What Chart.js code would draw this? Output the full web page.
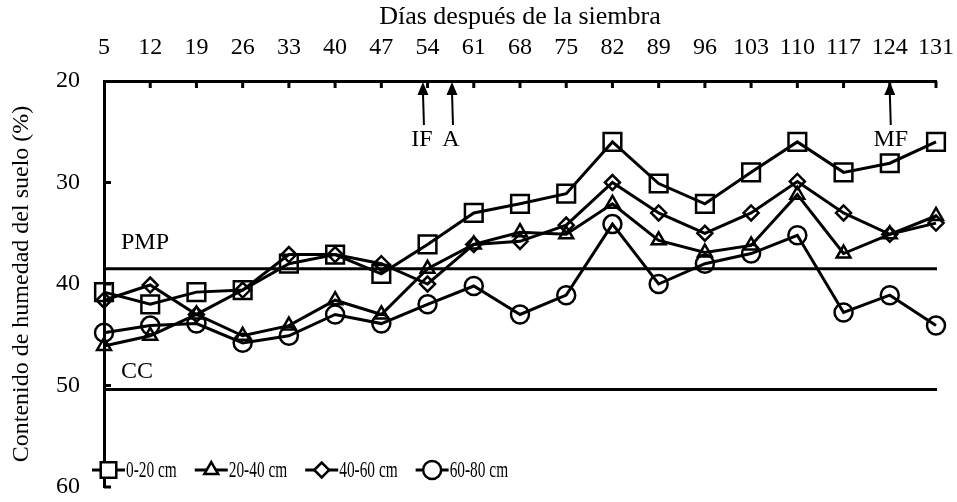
<!DOCTYPE html>
<html>
<head>
<meta charset="utf-8">
<script src="https://cdn.jsdelivr.net/npm/chart.js@4.4.1/dist/chart.umd.min.js"></script>
<style>
  html, body { margin: 0; padding: 0; background: #fff; }
  #wrap { width: 957px; height: 502px; position: relative; }
</style>
</head>
<body>
<div id="wrap"><canvas id="c" width="957" height="502"></canvas></div>
<script>
// ---- data ----
const days = [5, 12, 19, 26, 33, 40, 47, 54, 61, 68, 75, 82, 89, 96, 103, 110, 117, 124, 131];
const depth0_20  = [40.8, 42.0, 40.8, 40.6, 38.0, 37.1, 39.0, 36.1, 33.0, 32.1, 31.1, 26.0, 30.1, 32.1, 29.0, 26.0, 29.0, 28.1, 26.0];
const depth20_40 = [46.1, 45.1, 43.0, 45.1, 44.1, 41.6, 43.0, 38.5, 36.1, 34.9, 35.1, 32.1, 35.7, 36.9, 36.2, 31.2, 37.0, 35.1, 33.3];
const depth40_60 = [41.6, 40.1, 43.0, 40.6, 37.1, 37.1, 38.0, 40.0, 36.1, 35.8, 34.2, 30.0, 33.0, 35.0, 33.0, 29.9, 33.0, 35.1, 34.0];
const depth60_80 = [44.8, 44.1, 43.9, 45.8, 45.1, 43.0, 43.9, 42.0, 40.2, 43.0, 41.1, 34.1, 40.0, 38.0, 37.0, 35.2, 42.8, 41.1, 44.1];
const seriesLabels = ['0-20 cm', '20-40 cm', '40-60 cm', '60-80 cm'];
const yTicks = [20, 30, 40, 50, 60];
const refLines = [{ label: 'PMP', value: 38.5 }, { label: 'CC', value: 50.4 }];
const events = [{ label: 'IF', day: 53.3 }, { label: 'A', day: 57.7 }, { label: 'MF', day: 124 }];

const FONT = '"Liberation Serif", "Times New Roman", serif';
const pts = arr => arr.map((v, i) => ({ x: days[i], y: v }));

const styles = [
  { pointStyle: 'rect', pointRadius: 12.5 },
  { pointStyle: 'triangle', pointRadius: 8 },
  { pointStyle: 'rectRot', pointRadius: 7.5 },
  { pointStyle: 'circle', pointRadius: 9 }
];
const allSeries = [depth0_20, depth20_40, depth40_60, depth60_80];

const datasets = allSeries.map((arr, i) => ({
  label: seriesLabels[i],
  data: pts(arr),
  borderColor: '#000',
  borderWidth: 3,
  backgroundColor: 'rgba(255,255,255,0)',
  pointBackgroundColor: 'rgba(255,255,255,0)',
  pointBorderColor: '#000',
  pointBorderWidth: 2.5,
  pointStyle: styles[i].pointStyle,
  pointRadius: styles[i].pointRadius,
  pointHoverRadius: styles[i].pointRadius,
  tension: 0,
  clip: false
}));

const extras = {
  id: 'extras',
  beforeDatasetsDraw(chart) {
    const { ctx, chartArea: a, scales: { x, y } } = chart;
    ctx.save();
    ctx.strokeStyle = '#000';
    ctx.fillStyle = '#000';
    // reference lines
    ctx.lineWidth = 3;
    refLines.forEach(r => {
      const py = y.getPixelForValue(r.value);
      ctx.beginPath();
      ctx.moveTo(a.left, py);
      ctx.lineTo(a.right + 1, py);
      ctx.stroke();
    });
    ctx.font = '24px ' + FONT;
    ctx.textAlign = 'left';
    ctx.textBaseline = 'middle';
    ctx.fillText(refLines[0].label, a.left + 17, y.getPixelForValue(refLines[0].value) - 26);
    ctx.fillText(refLines[1].label, a.left + 17, y.getPixelForValue(refLines[1].value) - 18);
    // inward ticks
    ctx.lineWidth = 3;
    days.forEach((d, i) => {
      if (i === 0) return;
      const px = x.getPixelForValue(d);
      ctx.beginPath();
      ctx.moveTo(px, a.top);
      ctx.lineTo(px, a.top + 7);
      ctx.stroke();
    });
    yTicks.forEach((t, i) => {
      if (i === 0) return;
      const py = y.getPixelForValue(t);
      ctx.beginPath();
      ctx.moveTo(a.left, py);
      ctx.lineTo(a.left + 7, py);
      ctx.stroke();
    });
    // event arrows
    ctx.lineWidth = 2;
    events.forEach(e => {
      const px = x.getPixelForValue(e.day);
      const top = a.top + 1;
      ctx.beginPath();
      ctx.moveTo(px, top + 10);
      ctx.lineTo(px + 1, top + 43);
      ctx.stroke();
      ctx.beginPath();
      ctx.moveTo(px, top);
      ctx.lineTo(px - 5.5, top + 13);
      ctx.lineTo(px + 5.5, top + 13);
      ctx.closePath();
      ctx.fill();
      ctx.font = '24px ' + FONT;
      ctx.textAlign = 'center';
      ctx.textBaseline = 'middle';
      ctx.fillText(e.label, px + (e.label === 'MF' ? 1 : -1), top + 58);
    });
    ctx.restore();
  },
  afterDatasetsDraw(chart) {
    const { ctx, chartArea: a } = chart;
    ctx.save();
    const cy = 470;
    let xPos = a.left - 12;
    const lineLen = 33;
    const sx = 0.64;
    ctx.font = '24px ' + FONT;
    chart.data.datasets.forEach((ds, i) => {
      ctx.strokeStyle = '#000';
      ctx.lineWidth = 3;
      ctx.beginPath();
      ctx.moveTo(xPos, cy);
      ctx.lineTo(xPos + lineLen, cy);
      ctx.stroke();
      ctx.lineWidth = 2.5;
      ctx.fillStyle = '#fff';
      Chart.helpers.drawPoint(ctx, {
        pointStyle: ds.pointStyle,
        radius: ds.pointStyle === 'rect' ? 11 : (ds.pointStyle === 'triangle' ? 8 : ds.pointRadius),
        borderWidth: 2.5
      }, xPos + lineLen / 2, cy);
      ctx.fillStyle = '#000';
      ctx.textAlign = 'left';
      ctx.textBaseline = 'middle';
      const tx = xPos + lineLen + 1;
      ctx.save();
      ctx.translate(tx, cy);
      ctx.scale(sx, 1);
      ctx.fillText(ds.label, 0, 1);
      ctx.restore();
      const w = ctx.measureText(ds.label).width * sx;
      xPos = tx + w + 18;
    });
    ctx.restore();
  }
};

new Chart(document.getElementById('c'), {
  type: 'line',
  data: { datasets },
  options: {
    responsive: false,
    animation: false,
    devicePixelRatio: 1,
    layout: { padding: { left: 0, right: 21, top: 0, bottom: 14 } },
    plugins: { legend: { display: false }, tooltip: { enabled: false }, title: { display: false } },
    scales: {
      x: {
        type: 'linear',
        position: 'top',
        min: days[0],
        max: days[days.length - 1],
        afterBuildTicks: s => { s.ticks = days.map(v => ({ value: v })); },
        afterFit: s => { s.height = 81; s.paddingLeft = 0; s.paddingRight = 0; s.paddingTop = 0; s.paddingBottom = 0; },
        grid: { display: true, drawOnChartArea: false, drawTicks: false },
        border: { display: true, color: '#000', width: 3 },
        ticks: { color: '#000', font: { family: FONT, size: 24 }, padding: 19, maxRotation: 0, autoSkip: false },
        title: { display: true, text: 'Días después de la siembra', color: '#000', font: { family: FONT, size: 26 }, padding: { top: 2, bottom: 0 } }
      },
      y: {
        type: 'linear',
        reverse: true,
        min: yTicks[0],
        max: yTicks[yTicks.length - 1],
        afterBuildTicks: s => { s.ticks = yTicks.map(v => ({ value: v })); },
        afterFit: s => { s.width = 104; s.paddingLeft = 0; s.paddingRight = 0; s.paddingTop = 0; s.paddingBottom = 0; },
        grid: { display: true, drawOnChartArea: false, drawTicks: false },
        border: { display: true, color: '#000', width: 3 },
        ticks: { color: '#000', font: { family: FONT, size: 24 }, padding: 24 },
        title: { display: true, text: 'Contenido de humedad del suelo (%)', color: '#000', font: { family: FONT, size: 24 }, padding: { top: 7, bottom: 0 } }
      }
    }
  },
  plugins: [extras]
});
</script>
</body>
</html>
